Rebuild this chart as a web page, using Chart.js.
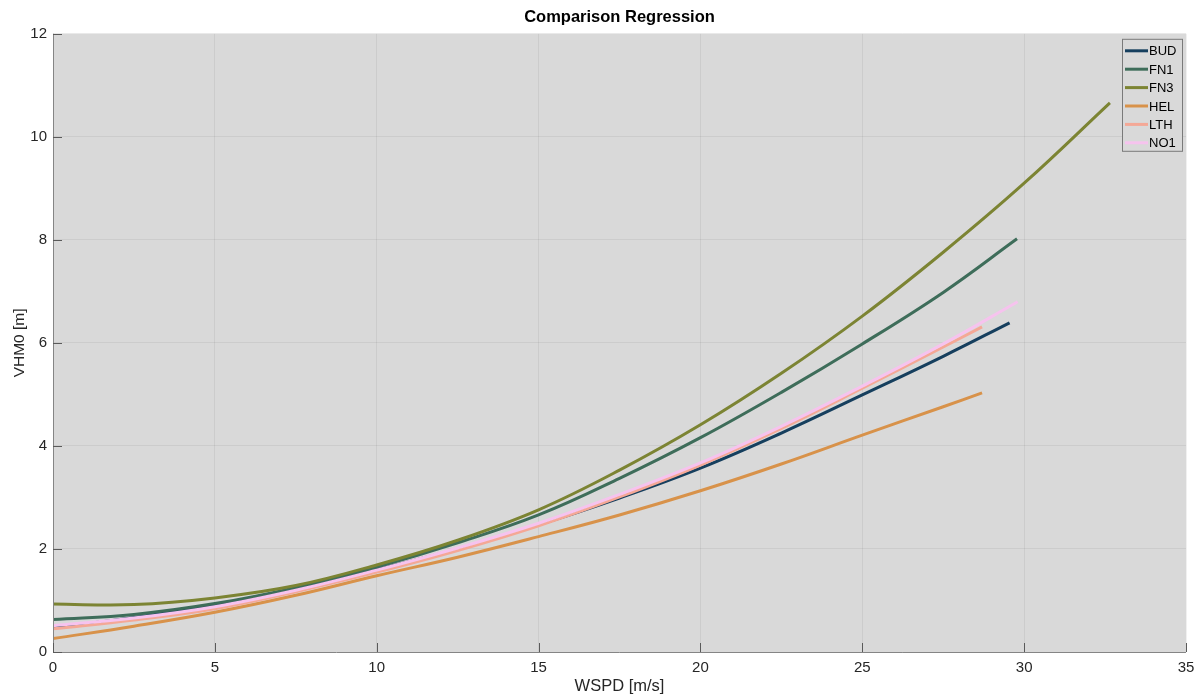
<!DOCTYPE html>
<html>
<head>
<meta charset="utf-8">
<script src="https://cdn.jsdelivr.net/npm/chart.js@4"></script>
<style>
  html, body { margin: 0; padding: 0; background: #ffffff; }
  #wrap { width: 1202px; height: 697px; }
</style>
</head>
<body>
<div id="wrap"><canvas id="myChart" width="1202" height="697"></canvas></div>
<script>
// series (WSPD in m/s, VHM0 in m)
const labels = ["BUD", "FN1", "FN3", "HEL", "LTH", "NO1"];

const budX = [0, 2.5, 5, 7.5, 10, 12.5, 15, 17.5, 20, 22.5, 25, 27.5, 29.55];
const budY = [0.47, 0.67, 0.92, 1.23, 1.60, 2.00, 2.47, 2.99, 3.57, 4.25, 4.99, 5.74, 6.39];

const fn1X = [0, 2.5, 5, 7.5, 10, 12.5, 15, 17.5, 20, 22.5, 25, 27.5, 29.78];
const fn1Y = [0.63, 0.73, 0.94, 1.25, 1.65, 2.12, 2.66, 3.37, 4.16, 5.04, 5.98, 6.98, 8.02];

const fn3X = [0, 2.5, 5, 7.5, 10, 12.5, 15, 17.5, 20, 22.5, 25, 27.5, 30, 32.65];
const fn3Y = [0.93, 0.92, 1.05, 1.29, 1.69, 2.17, 2.76, 3.53, 4.41, 5.41, 6.52, 7.76, 9.10, 10.66];

const helX = [0, 2.5, 5, 7.5, 10, 12.5, 15, 17.5, 20, 22.5, 25, 27.5, 28.7];
const helY = [0.26, 0.50, 0.77, 1.10, 1.48, 1.84, 2.24, 2.66, 3.13, 3.65, 4.21, 4.76, 5.03];

const lthX = [0, 2.5, 5, 7.5, 10, 12.5, 15, 17.5, 20, 22.5, 25, 27.5, 28.7];
const lthY = [0.45, 0.62, 0.84, 1.17, 1.55, 1.97, 2.45, 3.01, 3.63, 4.34, 5.12, 5.92, 6.31];

const no1X = [0, 2.5, 5, 7.5, 10, 12.5, 15, 17.5, 20, 22.5, 25, 27.5, 29.8];
const no1Y = [0.51, 0.66, 0.88, 1.20, 1.59, 2.02, 2.50, 3.06, 3.67, 4.38, 5.16, 5.98, 6.80];

const xTicks = [0, 5, 10, 15, 20, 25, 30, 35];
const yTicks = [0, 2, 4, 6, 8, 10, 12];

const lineColors = ["#163f5e", "#3e6d5a", "#7c8433", "#d8924a", "#f4a896", "#f6c3ee"];

const seriesX = [budX, fn1X, fn3X, helX, lthX, no1X];
const seriesY = [budY, fn1Y, fn3Y, helY, lthY, no1Y];

const datasets = labels.map((name, i) => ({
  label: name,
  data: seriesX[i].map((x, k) => ({ x: x, y: seriesY[i][k] })),
  borderColor: lineColors[i],
  backgroundColor: lineColors[i],
  borderWidth: 3,
  pointRadius: 0,
  tension: 0.4,
  fill: false,
  order: labels.length - i
}));

const FONT = "'Liberation Sans', Arial, Helvetica, sans-serif";
const plotGray = "#d9d9d9";

// gray plot box behind everything
const plotBg = {
  id: "plotBg",
  beforeDraw(chart) {
    const { ctx, chartArea: a } = chart;
    ctx.save();
    ctx.fillStyle = plotGray;
    ctx.fillRect(a.left, a.top, a.right - a.left, a.bottom - a.top);
    ctx.restore();
  }
};

// left + bottom axis lines with inward ticks, matlab style
const axesLines = {
  id: "axesLines",
  afterDatasetsDraw(chart) {
    const { ctx, chartArea: a, scales } = chart;
    ctx.save();
    ctx.strokeStyle = "#858585";
    ctx.lineWidth = 1;
    ctx.beginPath();
    ctx.moveTo(a.left + 0.5, a.top);
    ctx.lineTo(a.left + 0.5, a.bottom + 0.5);
    ctx.lineTo(a.right, a.bottom + 0.5);
    ctx.stroke();
    ctx.strokeStyle = "#5a5a5a";
    ctx.beginPath();
    xTicks.forEach(v => {
      const px = Math.round(scales.x.getPixelForValue(v)) + 0.5;
      ctx.moveTo(px, a.bottom);
      ctx.lineTo(px, a.bottom - 9);
    });
    yTicks.forEach(v => {
      const py = Math.round(scales.y.getPixelForValue(v)) + 0.5;
      ctx.moveTo(a.left, py);
      ctx.lineTo(a.left + 9, py);
    });
    ctx.stroke();
    ctx.restore();
  }
};

// boxed legend in the upper right corner
const boxLegend = {
  id: "boxLegend",
  afterDraw(chart) {
    const { ctx, chartArea: a } = chart;
    const w = 60, rowH = 18.4, h = 112;
    const left = a.right - w - 4, top = a.top + 5;
    ctx.save();
    ctx.fillStyle = plotGray;
    ctx.fillRect(left, top, w, h);
    ctx.strokeStyle = "#7a7a7a";
    ctx.lineWidth = 1;
    ctx.strokeRect(left + 0.5, top + 0.5, w, h);
    ctx.font = "13px " + FONT;
    ctx.textBaseline = "middle";
    chart.data.datasets.forEach((ds, i) => {
      const cy = top + 12 + i * rowH;
      ctx.strokeStyle = ds.borderColor;
      ctx.lineWidth = 3;
      ctx.beginPath();
      ctx.moveTo(left + 3, cy);
      ctx.lineTo(left + 26, cy);
      ctx.stroke();
      ctx.fillStyle = "#000000";
      ctx.fillText(ds.label, left + 27, cy + 1);
    });
    ctx.restore();
  }
};

const ctx = document.getElementById("myChart").getContext("2d");
new Chart(ctx, {
  type: "line",
  data: { datasets: datasets },
  options: {
    responsive: false,
    animation: false,
    devicePixelRatio: 1,
    layout: { padding: { left: 0, right: 16, top: 0, bottom: 0 } },
    plugins: {
      legend: { display: false },
      tooltip: { enabled: false },
      title: {
        display: true,
        fullSize: false,
        text: "Comparison Regression",
        color: "#000000",
        font: { family: FONT, size: 16.5, weight: "bold" },
        padding: { top: 8, bottom: 6 }
      }
    },
    scales: {
      x: {
        type: "linear",
        min: 0,
        max: 35,
        afterFit(scale) { scale.height = 45; },
        afterBuildTicks(scale) { scale.ticks = xTicks.map(v => ({ value: v })); },
        border: { display: false },
        grid: { color: "rgba(0,0,0,0.06)", lineWidth: 1, drawTicks: false },
        ticks: { color: "#262626", font: { family: FONT, size: 15 }, padding: 7, maxRotation: 0 },
        title: {
          display: true,
          text: "WSPD [m/s]",
          color: "#262626",
          font: { family: FONT, size: 16.5 },
          padding: { top: 0, bottom: 1 }
        }
      },
      y: {
        type: "linear",
        min: 0,
        max: 12,
        afterFit(scale) { scale.width = 53; },
        afterBuildTicks(scale) { scale.ticks = yTicks.map(v => ({ value: v })); },
        border: { display: false },
        grid: { color: "rgba(0,0,0,0.06)", lineWidth: 1, drawTicks: false },
        ticks: { color: "#262626", font: { family: FONT, size: 15 }, padding: 6 },
        title: {
          display: true,
          text: "VHM0 [m]",
          color: "#262626",
          font: { family: FONT, size: 15.5 },
          padding: { top: 10, bottom: 0 }
        }
      }
    }
  },
  plugins: [plotBg, axesLines, boxLegend]
});
</script>
</body>
</html>
